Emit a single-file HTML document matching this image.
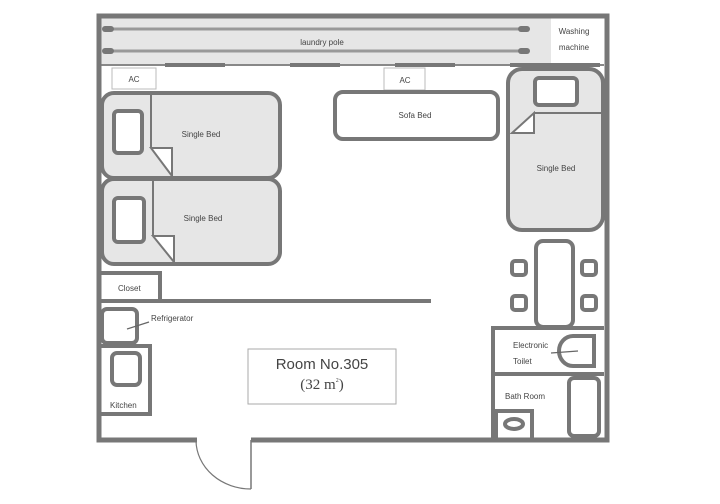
<!DOCTYPE html>
<html><head><style>body{margin:0;background:#fff}svg{display:block}text{font-family:"Liberation Sans",sans-serif;fill:#444}</style></head><body>
<svg width="720" height="504" viewBox="0 0 720 504" xmlns="http://www.w3.org/2000/svg">
<rect x="101" y="17" width="450" height="48" fill="#e6e6e6"/>
<rect x="551" y="19" width="53" height="43" fill="#fff"/>
<g stroke="#999" stroke-width="3"><line x1="105" y1="29" x2="528" y2="29"/><line x1="105" y1="51" x2="528" y2="51"/></g>
<g fill="#777"><rect x="102" y="26" width="12" height="6" rx="3"/><rect x="518" y="26" width="12" height="6" rx="3"/><rect x="102" y="48" width="12" height="6" rx="3"/><rect x="518" y="48" width="12" height="6" rx="3"/></g>
<text x="322" y="45" font-size="8" text-anchor="middle">laundry pole</text>
<text x="574" y="34" font-size="8" text-anchor="middle">Washing</text>
<text x="574" y="50" font-size="8" text-anchor="middle">machine</text>
<line x1="101" y1="65" x2="604" y2="65" stroke="#888" stroke-width="2"/>
<g fill="#777"><rect x="165" y="63" width="60" height="4"/><rect x="290" y="63" width="50" height="4"/><rect x="395" y="63" width="60" height="4"/><rect x="510" y="63" width="90" height="4"/></g>
<rect x="99" y="16" width="508" height="424" fill="none" stroke="#777" stroke-width="5"/>
<g fill="#fff" stroke="#bbb" stroke-width="1"><rect x="112" y="68" width="44" height="21"/><rect x="384" y="68" width="41" height="22"/></g>
<text x="134" y="82" font-size="8" text-anchor="middle">AC</text>
<text x="405" y="83" font-size="8" text-anchor="middle">AC</text>
<g stroke="#777" stroke-width="4" fill="#e6e6e6">
<rect x="102" y="93" width="178" height="85" rx="12"/>
<rect x="102" y="179" width="178" height="85" rx="12"/>
<rect x="335" y="92" width="163" height="47" rx="8" fill="#fff"/>
<rect x="508" y="69" width="95" height="161" rx="14"/>
</g>
<g stroke="#777" stroke-width="4" fill="#fff">
<rect x="114" y="111" width="28" height="42" rx="4"/>
<rect x="114" y="198" width="30" height="44" rx="4"/>
<rect x="535" y="78" width="42" height="27" rx="4"/>
</g>
<g stroke="#777" stroke-width="2" fill="#fff">
<polyline points="151,93 151,148" fill="none"/><polygon points="151,148 172,148 172,176"/>
<polyline points="153,179 153,236" fill="none"/><polygon points="153,236 174,236 174,262"/>
<polyline points="603,113 534,113" fill="none"/><polygon points="534,113 534,133 512,133"/>
</g>
<text x="201" y="137" font-size="8" text-anchor="middle">Single Bed</text>
<text x="203" y="221" font-size="8" text-anchor="middle">Single Bed</text>
<text x="415" y="118" font-size="8" text-anchor="middle">Sofa Bed</text>
<text x="556" y="171" font-size="8" text-anchor="middle">Single Bed</text>
<g stroke="#777" stroke-width="4" fill="#fff">
<rect x="536" y="241" width="37" height="86" rx="7"/>
<rect x="512" y="261" width="14" height="14" rx="3"/><rect x="582" y="261" width="14" height="14" rx="3"/>
<rect x="512" y="296" width="14" height="14" rx="3"/><rect x="582" y="296" width="14" height="14" rx="3"/>
<polyline points="604,328 493,328 493,440" fill="none"/>
<line x1="493" y1="374" x2="604" y2="374"/>
<path d="M596 336 H573 A14 15 0 0 0 573 366 H596"/>
<line x1="594" y1="337" x2="594" y2="365"/>
<rect x="569" y="378" width="30" height="58" rx="5"/>
<polyline points="496,440 496,411 532,411 532,440" fill="none"/>
<ellipse cx="514" cy="424" rx="9" ry="5"/>
<polyline points="101,273 160,273 160,301" fill="none"/>
<line x1="101" y1="301" x2="431" y2="301"/>
<rect x="102" y="309" width="35" height="34" rx="5"/>
<polyline points="101,346 150,346 150,414 101,414" fill="none"/>
<rect x="112" y="353" width="28" height="32" rx="5"/>
</g>
<line x1="127" y1="329" x2="149" y2="322" stroke="#666" stroke-width="1.2"/>
<line x1="551" y1="353" x2="578" y2="351" stroke="#666" stroke-width="1.2"/>
<text x="118" y="291" font-size="8">Closet</text>
<text x="151" y="321" font-size="8">Refrigerator</text>
<text x="110" y="408" font-size="8">Kitchen</text>
<text x="513" y="348" font-size="8">Electronic</text>
<text x="513" y="364" font-size="8">Toilet</text>
<text x="505" y="399" font-size="8">Bath Room</text>
<rect x="248" y="349" width="148" height="55" fill="#fff" stroke="#aaa" stroke-width="1"/>
<text x="322" y="369" font-size="15" text-anchor="middle" fill="#333">Room No.305</text>
<text x="322" y="389" font-size="15" text-anchor="middle" fill="#333" style="font-family:'Liberation Serif',serif">(32 m<tspan font-size="6" dy="-7">2</tspan><tspan dy="7">)</tspan></text>
<rect x="197" y="437" width="54" height="6" fill="#fff"/>
<line x1="251" y1="440" x2="251" y2="489" stroke="#777" stroke-width="1.5"/>
<path d="M196 441 A55 49 0 0 0 251 489" fill="none" stroke="#777" stroke-width="1.2"/>
</svg>
</body></html>
